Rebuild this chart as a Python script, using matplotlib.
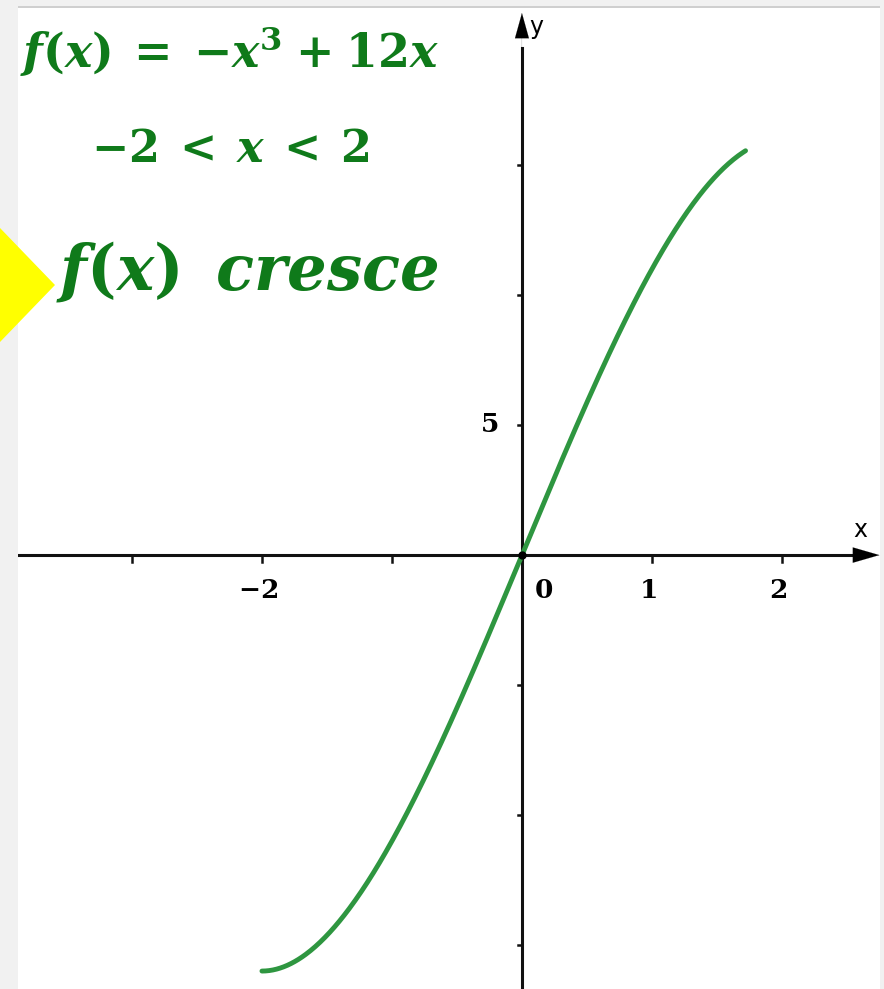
import numpy as np
import matplotlib.pyplot as plt
from matplotlib.patches import Polygon, Rectangle

plt.rcParams['mathtext.fontset'] = 'custom'
plt.rcParams['mathtext.rm'] = 'DejaVu Serif'
plt.rcParams['mathtext.it'] = 'DejaVu Serif:italic'
plt.rcParams['mathtext.bf'] = 'DejaVu Serif:bold'
plt.rcParams['mathtext.bfit'] = 'DejaVu Serif:italic:bold'

# dados do gráfico
coef = [-1, 0, 12, 0]          # f(x) = -x^3 + 12x
dominio = (-2.0, 1.72)
xticks = [-3, -2, -1, 1, 2]
xlabels = {-2: r'$\mathbf{-2}$', 1: r'$\mathbf{1}$', 2: r'$\mathbf{2}$'}
yticks = [-15, -10, -5, 5, 10, 15]
ylabels = {5: r'$\mathbf{5}$'}

verde_texto = '#0f7a1a'
verde_curva = '#2e9640'

fig = plt.figure(figsize=(8.84, 9.89), dpi=100)
fig.patch.set_facecolor('white')
ax = fig.add_axes([0, 0, 1, 1])
ax.set_xlim(-4.015, 2.785)
ax.set_ylim(-16.69, 21.35)
ax.axis('off')

# moldura cinza
fig.patches.append(Rectangle((0, 0), 18 / 884, 1, transform=fig.transFigure,
                             facecolor='#f1f1f1', edgecolor='none', zorder=0))
fig.patches.append(Rectangle((0, 1 - 6 / 989), 1, 6 / 989, transform=fig.transFigure,
                             facecolor='#f1f1f1', edgecolor='none', zorder=0))
fig.patches.append(Rectangle((18 / 884, 1 - 8 / 989), 1, 2 / 989, transform=fig.transFigure,
                             facecolor='#cfcfcf', edgecolor='none', zorder=0))
fig.patches.append(Rectangle((1 - 4 / 884, 0), 4 / 884, 1, transform=fig.transFigure,
                             facecolor='#f1f1f1', edgecolor='none', zorder=0))

# seta amarela
fig.patches.append(Polygon([(0, 1 - 228 / 989), (55 / 884, 1 - 285 / 989), (0, 1 - 342 / 989)],
                           closed=True, transform=fig.transFigure,
                           facecolor='#ffff00', edgecolor='none', zorder=1))

# eixos
ax.plot([-4.015, 2.62], [0, 0], color='#111111', lw=2.2, zorder=2)
ax.plot([0, 0], [-16.69, 19.5], color='#111111', lw=2.2, zorder=2)
ax.annotate('', xy=(2.75, 0), xytext=(2.45, 0),
            arrowprops=dict(arrowstyle='-|>,head_length=1.9,head_width=0.55',
                            color='black', lw=0.1, shrinkA=0, shrinkB=0))
ax.annotate('', xy=(0, 20.85), xytext=(0, 18.5),
            arrowprops=dict(arrowstyle='-|>,head_length=1.8,head_width=0.5',
                            color='black', lw=0.1, shrinkA=0, shrinkB=0))
ax.text(2.55, 0.5, 'x', fontsize=17, ha='left', va='bottom', family='DejaVu Sans')
ax.text(0.06, 20.3, 'y', fontsize=17, ha='left', va='center', family='DejaVu Sans')

for t in xticks:
    ax.plot([t, t], [0, -0.25], color='#111111', lw=1.8, zorder=2)
    if t in xlabels:
        ax.text(t - 0.03, -0.9, xlabels[t], fontsize=19, ha='center', va='top')
for t in yticks:
    ax.plot([0, -0.03], [t, t], color='#111111', lw=1.8, zorder=2)
    if t in ylabels:
        ax.text(-0.18, t, ylabels[t], fontsize=19, ha='right', va='center')
ax.text(0.17, -0.9, r'$\mathbf{0}$', fontsize=19, ha='center', va='top')

# curva
x = np.linspace(dominio[0], dominio[1], 400)
ax.plot(x, np.polyval(coef, x), color=verde_curva, lw=3.5, solid_capstyle='round', zorder=3)
ax.plot(0, 0, 'o', color='black', ms=5, zorder=4)

# textos
fig.text(20 / 884, 1 - 52 / 989,
         r'$\mathbfit{f}\mathbf{(}\mathbfit{x}\mathbf{)}\;\mathbf{=}\;\mathbf{-}\mathbfit{x}^{\mathbf{3}}\;\mathbf{+}\;\mathbf{12}\mathbfit{x}$',
         fontsize=33, color=verde_texto, ha='left', va='center')
fig.text(230 / 884, 1 - 150 / 989,
         r'$\mathbf{-2}\;\mathbf{<}\;\mathbfit{x}\;\mathbf{<}\;\mathbf{2}$',
         fontsize=32, color=verde_texto, ha='center', va='center')
fig.text(56 / 884, 1 - 272 / 989,
         r'$\mathbfit{f}\mathbf{(}\mathbfit{x}\mathbf{)}\;\;\mathbfit{cresce}$',
         fontsize=45, color=verde_texto, ha='left', va='center')

fig.savefig('out.png', dpi=100)
